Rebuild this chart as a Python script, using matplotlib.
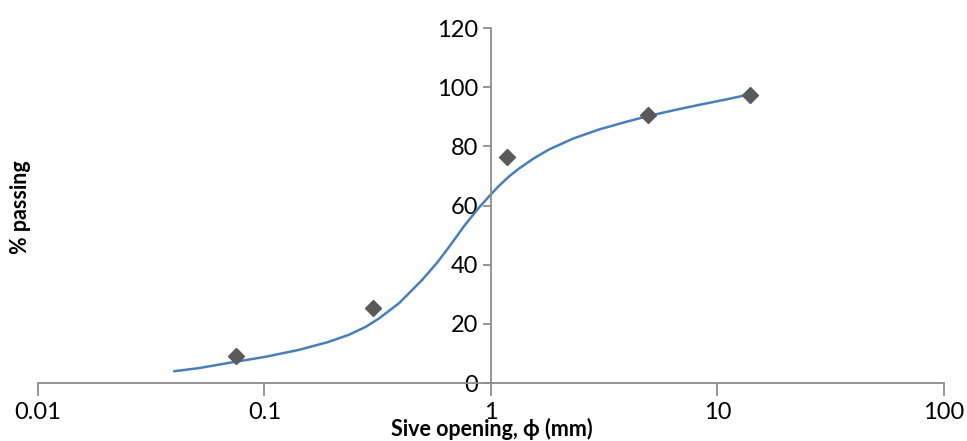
import numpy as np
import matplotlib.pyplot as plt
from matplotlib.ticker import FixedLocator, NullLocator

# %% Data
# sieve test points
sieve_mm = [0.075, 0.3, 1.18, 4.95, 13.9]
passing = [9.2, 25.3, 76.4, 90.5, 97.3]

# fitted curve
curve_mm = [0.040, 0.051, 0.072, 0.100, 0.142, 0.190, 0.236, 0.280, 0.320,
            0.393, 0.496, 0.580, 0.653, 0.760, 0.885, 1.00, 1.08, 1.20, 1.33,
            1.55, 1.80, 2.30, 3.00, 4.00, 4.99, 6.50, 8.28, 11.0, 13.9]
curve_pct = [4.0, 5.0, 7.0, 8.8, 11.2, 13.8, 16.3, 19.0, 21.8,
             27.0, 34.8, 40.8, 46.0, 53.0, 59.3, 63.8, 66.5, 69.8, 72.5,
             76.0, 78.9, 82.6, 85.7, 88.4, 90.3, 92.3, 94.0, 95.9, 97.6]

xticks = [0.01, 0.1, 1, 10, 100]
xticklabels = ['0.01', '0.1', '1', '10', '100']
yticks = [0, 20, 40, 60, 80, 100, 120]

# %% Plot
plt.rcParams['font.family'] = ['Lato', 'DejaVu Sans']
fig = plt.figure(figsize=(9.67, 4.41), dpi=100)
ax = fig.add_axes([0.0393, 0.1315, 0.9369, 0.805])

ax.plot(curve_mm, curve_pct, color='#4a7ebb', lw=1.8, zorder=2,
        solid_joinstyle='round')
ax.plot(sieve_mm, passing, ls='none', marker='D', ms=8.5, color='#595959', zorder=3)

ax.set_xscale('log')
ax.set_xlim(0.01, 100)
ax.set_ylim(0, 120)
ax.xaxis.set_major_locator(FixedLocator(xticks))
ax.xaxis.set_minor_locator(NullLocator())
ax.set_xticklabels(xticklabels)
ax.set_yticks(yticks)

for s in ['top', 'right']:
    ax.spines[s].set_visible(False)
ax.spines['left'].set_position(('data', 1))
for s in ['left', 'bottom']:
    ax.spines[s].set_color('#8c8c8c')
    ax.spines[s].set_linewidth(1.3)
ax.tick_params(axis='both', colors='#8c8c8c', width=1.3, labelsize=17,
               labelcolor='black')
ax.tick_params(axis='x', length=9, pad=5)
ax.tick_params(axis='y', length=6, pad=3)

fig.text(0.509, 0.003, 'Sive opening, ϕ (mm)', ha='center', va='bottom',
         fontsize=15.5, fontweight='bold')
fig.text(0.021, 0.53, '% passing', ha='center', va='center', rotation=90,
         fontsize=15.5, fontweight='bold')

fig.savefig('out.png', dpi=100)
